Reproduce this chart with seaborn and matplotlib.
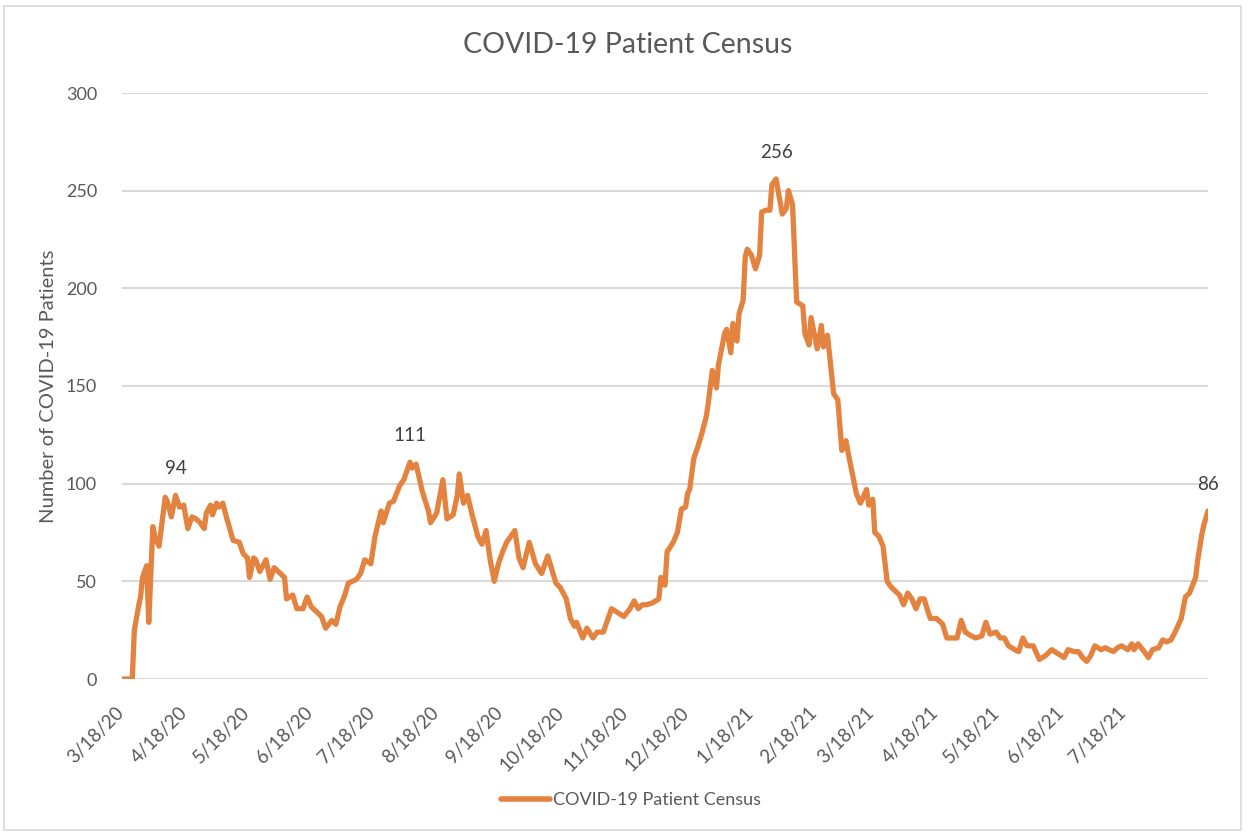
import numpy as np
import pandas as pd
import matplotlib
matplotlib.use("Agg")
import matplotlib.pyplot as plt
import matplotlib.transforms as mtransforms
import seaborn as sns

# ---------------- data ----------------
start_date = "2020-03-18"
day = [0, 5, 6, 8, 9, 10, 12, 13, 15, 16, 18, 21, 22, 24, 26, 28, 30, 32, 34, 36,
       38, 40, 41, 43, 44, 46, 47, 49, 51, 54, 57, 59, 61, 62, 64, 65, 67, 70, 72, 74,
       76, 79, 80, 83, 85, 88, 90, 92, 94, 97, 99, 102, 104, 106, 108, 110, 114, 116, 118, 121,
       123, 126, 127, 130, 132, 135, 137, 140, 141, 143, 146, 149, 150, 153, 156, 158, 161, 163, 164, 166,
       168, 170, 173, 175, 177, 179, 181, 183, 185, 187, 189, 191, 193, 195, 198, 201, 204, 207, 209, 211,
       213, 216, 218, 220, 221, 224, 226, 229, 231, 234, 236, 238, 241, 244, 247, 249, 251, 253, 255, 258,
       261, 262, 264, 265, 268, 270, 272, 274, 275, 276, 278, 280, 282, 284, 285, 287, 289, 290, 293, 294,
       296, 297, 299, 300, 302, 303, 304, 306, 308, 310, 311, 313, 315, 316, 318, 320, 321, 323, 324, 326,
       328, 331, 332, 334, 335, 338, 340, 341, 343, 346, 348, 350, 352, 353, 357, 359, 362, 363, 365, 366,
       368, 370, 372, 374, 376, 378, 380, 382, 384, 386, 388, 390, 392, 393, 396, 399, 401, 403, 406, 408,
       410, 413, 415, 418, 420, 422, 425, 427, 429, 431, 434, 436, 438, 440, 443, 446, 449, 452, 455, 458,
       460, 463, 465, 467, 469, 471, 473, 476, 478, 480, 482, 484, 486, 489, 491, 492, 494, 497, 499, 501,
       504, 506, 508, 510, 512, 515, 517, 519, 522, 523, 525, 526, 528]
census = [0, 0, 25, 37, 42, 52, 58, 29, 78, 73, 68, 93, 91, 83, 94, 88, 89, 77, 83, 82,
          80, 77, 85, 89, 84, 90, 88, 90, 82, 71, 70, 64, 62, 52, 62, 61, 55, 61, 51, 57,
          55, 52, 41, 43, 36, 36, 42, 37, 35, 32, 26, 30, 28, 37, 42, 49, 51, 54, 61, 59,
          73, 86, 80, 90, 91, 99, 102, 111, 108, 110, 96, 86, 80, 85, 102, 82, 84, 94, 105, 90,
          94, 85, 73, 69, 76, 61, 50, 59, 65, 70, 73, 76, 62, 57, 70, 59, 54, 63, 56, 49,
          47, 41, 31, 27, 29, 21, 26, 21, 24, 24, 30, 36, 34, 32, 36, 40, 36, 38, 38, 39,
          41, 52, 48, 65, 70, 75, 87, 88, 95, 97, 113, 119, 126, 134, 141, 158, 149, 161, 177, 179,
          167, 182, 173, 187, 194, 216, 220, 217, 210, 217, 239, 240, 240, 253, 256, 244, 238, 241, 250, 243,
          193, 191, 177, 171, 185, 169, 181, 170, 176, 146, 143, 117, 122, 116, 95, 90, 97, 89, 92, 75,
          73, 68, 50, 47, 45, 43, 38, 44, 41, 36, 41, 41, 34, 31, 31, 28, 21, 21, 21, 30,
          24, 22, 21, 22, 29, 23, 24, 21, 21, 17, 15, 14, 21, 17, 17, 10, 12, 15, 13, 11,
          15, 14, 14, 11, 9, 12, 17, 15, 16, 15, 14, 16, 17, 15, 18, 15, 18, 14, 11, 15,
          16, 20, 19, 20, 24, 31, 42, 44, 52, 61, 74, 79, 86]
labeled_days = [26, 140, 318, 528]
series_name = "COVID-19 Patient Census"
title = "COVID-19 Patient Census"
y_label = "Number of COVID-19 Patients"
y_ticks = [0, 50, 100, 150, 200, 250, 300]
first_tick = "2020-03-18"
n_month_ticks = 17

# ---------------- build frame ----------------
dates = pd.to_datetime(start_date) + pd.to_timedelta(day, unit="D")
df = pd.DataFrame({"date": dates, "census": census, "series": series_name})

# ---------------- styling ----------------
sns.set_theme(style="white")
plt.rcParams["font.family"] = ["Lato", "DejaVu Sans"]
line_color = "#E3833F"
text_color = "#595959"
grid_color = "#D9D9D9"

fig = plt.figure(figsize=(12.47, 8.32), dpi=100)
ax = fig.add_axes([122 / 1247, 1 - 679 / 832, (1208 - 122) / 1247, (679 - 93) / 832])

sns.lineplot(data=df, x="date", y="census", hue="series", palette=[line_color],
             linewidth=3.8, ax=ax, legend=False)
for ln in ax.lines:
    ln.set_solid_joinstyle("round")
    ln.set_solid_capstyle("round")

ax.set_ylim(0, 300)
ax.set_yticks(y_ticks)
ax.set_xlim(dates[0], dates[-1])
ax.yaxis.grid(True, color=grid_color, linewidth=1.5)
ax.xaxis.grid(False)
ax.set_axisbelow(True)
for s in ax.spines.values():
    s.set_visible(False)

tick_dates = [pd.Timestamp(first_tick) + pd.DateOffset(months=k) for k in range(n_month_ticks)]
ax.set_xticks(tick_dates)
ax.set_xticklabels([f"{d.month}/{d.day}/{d.strftime('%y')}" for d in tick_dates],
                   rotation=45, ha="right", rotation_mode="anchor",
                   fontsize=13.5, color=text_color)
ax.tick_params(axis="x", length=0, pad=18)
shift = mtransforms.ScaledTranslation(-7 / 100, 0, fig.dpi_scale_trans)
for lab in ax.get_xticklabels():
    lab.set_transform(lab.get_transform() + shift)
ax.tick_params(axis="y", length=0, pad=18, labelsize=13, labelcolor=text_color)

ax.set_xlabel("")
ax.set_ylabel(y_label, fontsize=14.5, color=text_color, labelpad=6)

# data labels
for d in labeled_days:
    i = day.index(d)
    ax.annotate(str(census[i]), (dates[i], census[i]), xytext=(0, 13),
                textcoords="offset points", ha="center", va="bottom",
                fontsize=13.5, color="#404040")

fig.text(0.503, 1 - 45 / 832, title, ha="center", va="center",
         fontsize=20.5, color="#595959")

handle = plt.Line2D([], [], color=line_color, linewidth=4, solid_capstyle="round")
fig.legend([handle], [series_name], loc="center", bbox_to_anchor=(0.506, 1 - 800 / 832),
           frameon=False, fontsize=13, labelcolor=text_color, handlelength=2.7,
           handletextpad=0.15)

# chart border
fig.patches.append(plt.Rectangle((0.003, 0.003), 0.992, 0.99, transform=fig.transFigure,
                                 fill=False, edgecolor=grid_color, linewidth=1.2))

fig.savefig("out.png", dpi=100, facecolor="white")
